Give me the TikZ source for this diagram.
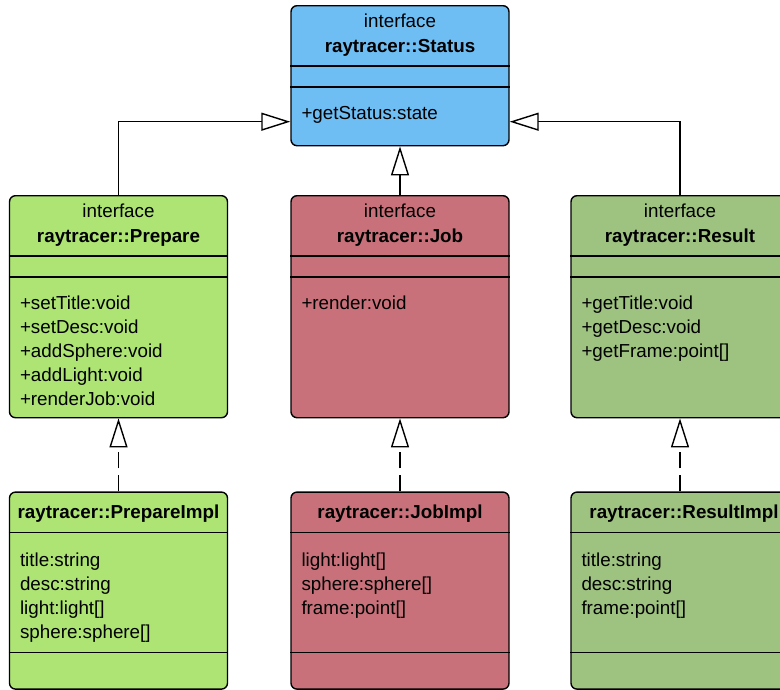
\documentclass[tikz,border=0pt]{standalone}
\usepackage{fontspec}
\setmainfont{Liberation Sans}
\usetikzlibrary{arrows.meta,calc}
\definecolor{cblue}{HTML}{6EBEF4}
\definecolor{cgreen}{HTML}{ADE474}
\definecolor{cred}{HTML}{C8717A}
\definecolor{cdgreen}{HTML}{9EC280}
\newcommand\umllist[1]{\begin{tabular}[t]{@{}l@{}}#1\end{tabular}}
\newcommand\umlIface[6]{%
  \node[box, fill=#4, minimum height=#3, anchor=north] (#1) at (#2) {};
  \draw[div] ($(#1.north west)+(0,61)$) -- ($(#1.north east)+(0,61)$);
  \draw[div] ($(#1.north west)+(0,82)$) -- ($(#1.north east)+(0,82)$);
  \node[txt, anchor=base] (#1-st) at ($(#1.north)+(0,22)$) {interface};
  \node[txt, anchor=base, font=\umlfont\bfseries] (#1-nm) at ($(#1.north)+(0,47)$) {#5};
  \node[txt, anchor=base west] (#1-ops) at ($(#1.north west)+(11,114.5)$) {\umllist{#6}};
}
\newcommand\umlImpl[5]{%
  \node[box, fill=#2, minimum height=197pt, anchor=north] (#1) at ($(#1-if.south)+(0,73)$) {};
  \draw[div] ($(#1.north west)+(0,41)$) -- ($(#1.north east)+(0,41)$);
  \draw[div] ($(#1.north west)+(0,161)$) -- ($(#1.north east)+(0,161)$);
  \node[txt, anchor=base, font=\umlfont\bfseries] (#1-nm) at ($(#1.north)+(#5,27)$) {#3};
  \node[txt, anchor=base west] (#1-at) at ($(#1.north west)+(11,75)$) {\umllist{#4}};
}
\newcommand\umlfont{\fontsize{18.8}{24}\selectfont}
\begin{document}
\begin{tikzpicture}[x=1pt,y=-1pt,
  box/.style={draw=black, line width=1.4pt, rounded corners=6pt, minimum width=218pt, inner sep=0pt},
  div/.style={draw=black, line width=1.4pt},
  txt/.style={inner sep=0pt, font=\umlfont, text=black},
  inh/.style={draw=black, line width=1.4pt, -{Triangle[length=29pt, width=18pt, fill=white]}},
  real/.style={inh, dash pattern=on 16pt off 7pt}]
\clip (0,0) rectangle (780,689);
% interfaces
\umlIface{status}{400,5}{140pt}{cblue}{raytracer::Status}{+getStatus:state}
\umlIface{prep-if}{118.5,195}{222pt}{cgreen}{raytracer::Prepare}{+setTitle:void\\+setDesc:void\\+addSphere:void\\+addLight:void\\+renderJob:void}
\umlIface{job-if}{400,195}{222pt}{cred}{raytracer::Job}{+render:void}
\umlIface{res-if}{680,195}{222pt}{cdgreen}{raytracer::Result}{+getTitle:void\\+getDesc:void\\+getFrame:point[]}
% implementations
\umlImpl{prep}{cgreen}{raytracer::PrepareImpl}{title:string\\desc:string\\light:light[]\\sphere:sphere[]}{0}
\umlImpl{job}{cred}{raytracer::JobImpl}{light:light[]\\sphere:sphere[]\\frame:point[]}{0}
\umlImpl{res}{cdgreen}{raytracer::ResultImpl}{title:string\\desc:string\\frame:point[]}{4}
% generalisation
\draw[inh] (prep-if.north) |- ($(status.west)+(0,46)$);
\draw[inh] (res-if.north) |- ($(status.east)+(0,46)$);
\draw[inh] (job-if.north) -- (status.south);
% realisation
\draw[real] (prep.north) -- (prep-if.south);
\draw[real] (job.north) -- (job-if.south);
\draw[real] (res.north) -- (res-if.south);
\end{tikzpicture}
\end{document}
